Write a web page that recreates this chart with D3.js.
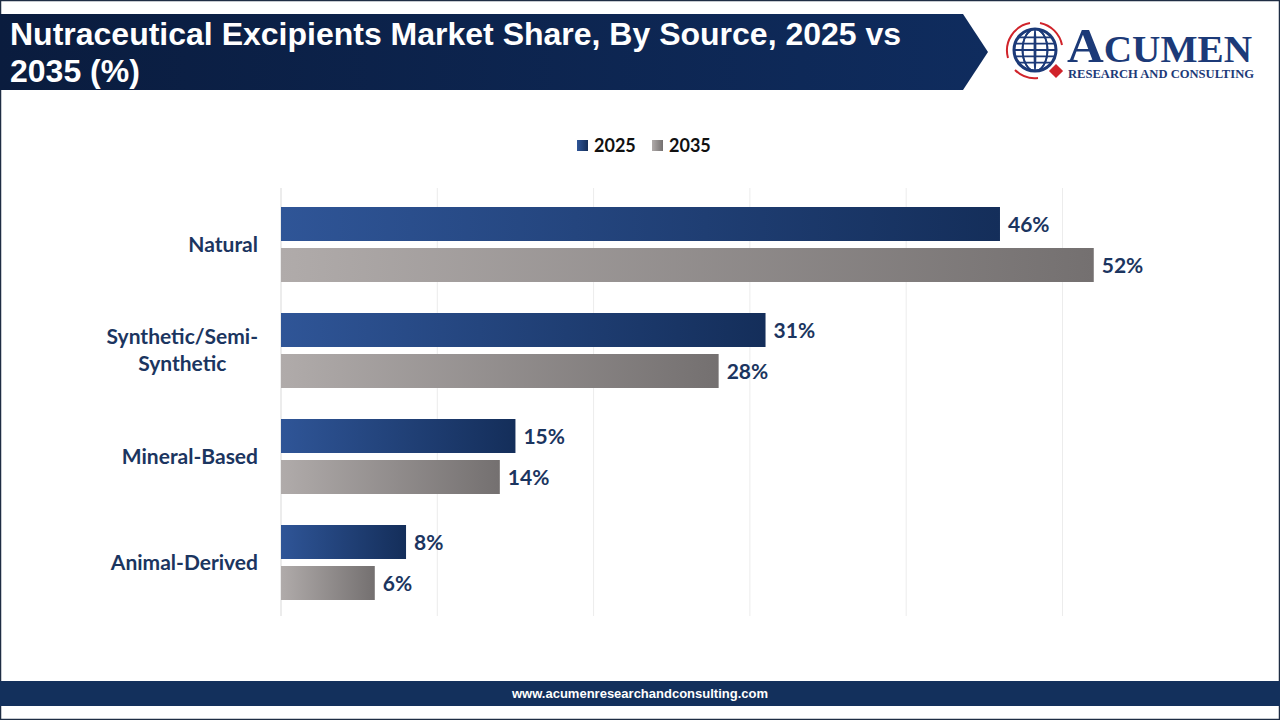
<!DOCTYPE html>
<html><head><meta charset="utf-8">
<script src="https://cdn.jsdelivr.net/npm/d3@7"></script>
<style>body{margin:0;background:#fff;}svg{display:block;}</style>
</head><body>
<svg id="c" width="1280" height="720"></svg>
<script>
const categories = ["Natural", "Synthetic/Semi-Synthetic", "Mineral-Based", "Animal-Derived"];
const categoryLines = [["Natural"], ["Synthetic/Semi-", "Synthetic"], ["Mineral-Based"], ["Animal-Derived"]];
const series = ["2025", "2035"];
const values2025 = [46, 31, 15, 8];
const values2035 = [52, 28, 14, 6];
const gridTicks = [0, 10, 20, 30, 40, 50];

const svg = d3.select("#c");
const defs = svg.append("defs");

const g1 = defs.append("linearGradient").attr("id", "gBlue").attr("x1", 0).attr("x2", 1).attr("y1", 0).attr("y2", 0);
g1.append("stop").attr("offset", 0).attr("stop-color", "#2f5597");
g1.append("stop").attr("offset", 1).attr("stop-color", "#142e5a");
const g2 = defs.append("linearGradient").attr("id", "gGray").attr("x1", 0).attr("x2", 1).attr("y1", 0).attr("y2", 0);
g2.append("stop").attr("offset", 0).attr("stop-color", "#b0abaa");
g2.append("stop").attr("offset", 1).attr("stop-color", "#747070");
const gt = defs.append("linearGradient").attr("id", "gTitle").attr("x1", 0).attr("x2", 1).attr("y1", 0).attr("y2", 0);
gt.append("stop").attr("offset", 0).attr("stop-color", "#0a1c3e");
gt.append("stop").attr("offset", 1).attr("stop-color", "#0f2c5e");

svg.append("rect").attr("x", 0.5).attr("y", 0.5).attr("width", 1279).attr("height", 719)
  .attr("fill", "none").attr("stroke", "#1f2d44").attr("stroke-width", 1.5);

svg.append("path").attr("d", "M0,14 L963,14 L988,52 L963,90 L0,90 Z").attr("fill", "url(#gTitle)");
const title = svg.append("text").attr("fill", "#fff").attr("font-family", "Liberation Sans, Arial, sans-serif")
  .attr("font-weight", "bold").attr("font-size", 32);
title.append("tspan").attr("x", 10).attr("y", 45).text("Nutraceutical Excipients Market Share, By Source, 2025 vs");
title.append("tspan").attr("x", 10).attr("y", 82).text("2035 (%)");

const logo = svg.append("g");
const cx = 1035, cy = 50, r = 21;
logo.append("circle").attr("cx", cx).attr("cy", cy).attr("r", r).attr("fill", "none").attr("stroke", "#1c3a78").attr("stroke-width", 3);
[-0.55, 0, 0.55].forEach(f => {
  logo.append("ellipse").attr("cx", cx).attr("cy", cy).attr("rx", Math.abs(f) < 0.01 ? 0.5 : r * (1 - Math.abs(f)) + 3).attr("ry", r)
    .attr("fill", "none").attr("stroke", "#1c3a78").attr("stroke-width", 1.8);
});
[-0.6, -0.3, 0, 0.3, 0.6].forEach(f => {
  const yy = cy + f * r;
  const hw = Math.sqrt(r * r - (f * r) * (f * r));
  logo.append("line").attr("x1", cx - hw).attr("x2", cx + hw).attr("y1", yy).attr("y2", yy).attr("stroke", "#1c3a78").attr("stroke-width", 1.8);
});
logo.append("path").attr("d", `M${cx - 27},${cy + 8} A28,28 0 0 1 ${cx - 5},${cy - 27}`).attr("fill", "none").attr("stroke", "#d0232a").attr("stroke-width", 2);
logo.append("path").attr("d", `M${cx + 5},${cy - 27} A28,28 0 0 1 ${cx + 27},${cy - 5}`).attr("fill", "none").attr("stroke", "#d0232a").attr("stroke-width", 2);
logo.append("path").attr("d", `M${cx - 20},${cy + 20} A28,28 0 0 0 ${cx + 3},${cy + 28}`).attr("fill", "none").attr("stroke", "#d0232a").attr("stroke-width", 2);
logo.append("rect").attr("x", cx + 16).attr("y", cy + 16).attr("width", 10).attr("height", 10)
  .attr("transform", `rotate(45 ${cx + 21} ${cy + 21})`).attr("fill", "#d0232a");
const ac = logo.append("text").attr("x", 1067).attr("y", 62).attr("fill", "#1c3a78")
  .attr("font-family", "Liberation Serif, Times New Roman, serif").attr("font-weight", "bold")
  .attr("textLength", 185).attr("lengthAdjust", "spacingAndGlyphs");
ac.append("tspan").attr("font-size", 48).text("A");
ac.append("tspan").attr("font-size", 37).text("CUMEN");
logo.append("text").attr("x", 1068).attr("y", 78).attr("fill", "#1c3a78")
  .attr("font-family", "Liberation Serif, Times New Roman, serif").attr("font-weight", "bold")
  .attr("font-size", 11.5).attr("textLength", 186).attr("lengthAdjust", "spacingAndGlyphs").text("RESEARCH AND CONSULTING");

const legend = svg.append("g");
const legItems = [{ s: series[0], x: 577, fill: "url(#gBlue)" }, { s: series[1], x: 652, fill: "url(#gGray)" }];
legItems.forEach(d => {
  legend.append("rect").attr("x", d.x).attr("y", 140).attr("width", 11).attr("height", 11).attr("fill", d.fill);
  legend.append("text").attr("x", d.x + 17).attr("y", 152).attr("font-family", "Lato, sans-serif").attr("font-weight", "bold")
    .attr("font-size", 18).attr("fill", "#111").text(d.s);
});

const x = d3.scaleLinear().domain([0, 50]).range([281, 1062.5]);
const y = d3.scaleBand().domain(categories).range([191.5, 615.5]);
const barH = 34, gap = 7;

svg.append("g").selectAll("line").data(gridTicks).join("line")
  .attr("x1", d => x(d)).attr("x2", d => x(d)).attr("y1", 188).attr("y2", 616)
  .attr("stroke", d => d === 0 ? "#d9d9d9" : "#ececec").attr("stroke-width", 1);

const rows = categories.map((c, i) => ({ c, i, v: [values2025[i], values2035[i]] }));
const grp = svg.append("g").selectAll("g").data(rows).join("g");
grp.each(function (d) {
  const gsel = d3.select(this);
  const center = y(d.c) + y.bandwidth() / 2;
  d.v.forEach((v, k) => {
    const top = center - barH - gap / 2 + k * (barH + gap);
    gsel.append("rect").attr("x", x(0)).attr("y", top).attr("width", x(v) - x(0)).attr("height", barH)
      .attr("fill", k === 0 ? "url(#gBlue)" : "url(#gGray)");
    gsel.append("text").attr("x", x(v) + 8).attr("y", top + barH / 2 + 7.5)
      .attr("font-family", "Lato, sans-serif").attr("font-weight", "bold").attr("font-size", 21)
      .attr("fill", "#1b3560").text(v + "%");
  });
  const lines = categoryLines[d.i];
  const t = gsel.append("text").attr("text-anchor", "end").attr("font-family", "Lato, sans-serif")
    .attr("font-weight", "bold").attr("font-size", 21).attr("fill", "#1b3560");
  const spans = lines.map((ln, j) =>
    t.append("tspan").attr("x", 258).attr("y", center + 7 + (j - (lines.length - 1) / 2) * 27).text(ln));
  if (lines.length > 1) {
    const maxW = d3.max(spans, s => s.node().getComputedTextLength());
    t.attr("text-anchor", "middle");
    spans.forEach(s => s.attr("x", 258 - maxW / 2));
  }
});

svg.append("rect").attr("x", 0).attr("y", 681).attr("width", 1280).attr("height", 25).attr("fill", "#13305c");
svg.append("text").attr("x", 640).attr("y", 698).attr("text-anchor", "middle").attr("fill", "#fff")
  .attr("font-family", "Liberation Sans Narrow, Liberation Sans, sans-serif").attr("font-weight", "bold").attr("font-size", 13)
  .text("www.acumenresearchandconsulting.com");
</script>
</body></html>
